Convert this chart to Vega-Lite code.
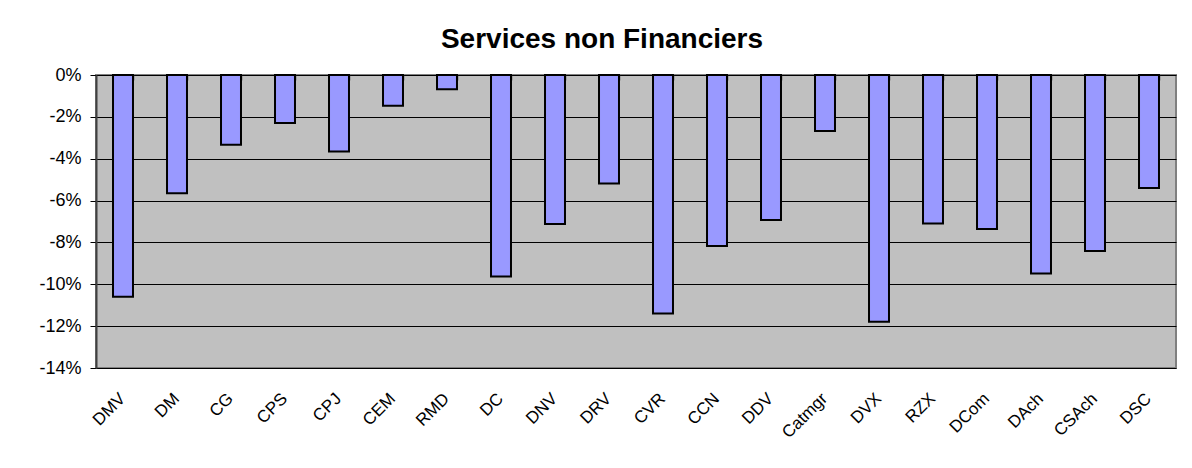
{
  "$schema": "https://vega.github.io/schema/vega-lite/v6.json",
  "autosize": {"type": "none"},
  "width": 1080,
  "height": 293,
  "padding": {"left": 96, "top": 75, "right": 16, "bottom": 100},
  "background": "white",
  "title": {
    "text": "Services non Financiers",
    "font": "Liberation Sans",
    "fontSize": 28,
    "fontWeight": "bold",
    "color": "black",
    "anchor": "middle",
    "frame": "group",
    "dx": -34,
    "offset": 12
  },
  "data": {
    "values": [
      {"cat": "DMV", "v": -0.106},
      {"cat": "DM", "v": -0.0565},
      {"cat": "CG", "v": -0.0333},
      {"cat": "CPS", "v": -0.0229},
      {"cat": "CPJ", "v": -0.0365},
      {"cat": "CEM", "v": -0.0147},
      {"cat": "RMD", "v": -0.0068},
      {"cat": "DC", "v": -0.0963},
      {"cat": "DNV", "v": -0.0712},
      {"cat": "DRV", "v": -0.0518},
      {"cat": "CVR", "v": -0.1139},
      {"cat": "CCN", "v": -0.0817},
      {"cat": "DDV", "v": -0.0693},
      {"cat": "Catmgr", "v": -0.0268},
      {"cat": "DVX", "v": -0.1179},
      {"cat": "RZX", "v": -0.0709},
      {"cat": "DCom", "v": -0.0736},
      {"cat": "DAch", "v": -0.0948},
      {"cat": "CSAch", "v": -0.0841},
      {"cat": "DSC", "v": -0.054}
    ]
  },
  "config": {
    "view": {"fill": "#C0C0C0", "stroke": "#808080", "strokeWidth": 2},
    "font": "Liberation Sans"
  },
  "resolve": {"axis": {"x": "independent"}},
  "layer": [
    {
      "mark": {"type": "bar", "fill": "#9999FF", "stroke": "black", "strokeWidth": 2},
      "encoding": {
        "x": {
          "field": "cat",
          "type": "nominal",
          "sort": null,
          "scale": {"paddingInner": 0.63, "paddingOuter": 0.315},
          "axis": {
            "title": null,
            "orient": "bottom",
            "labelAngle": -45,
            "labelFont": "Liberation Sans",
            "labelFontSize": 17,
            "labelColor": "black",
            "labelPadding": 22,
            "labelOffset": -6,
            "ticks": false,
            "domain": false
          }
        },
        "y": {
          "field": "v",
          "type": "quantitative",
          "scale": {"domain": [-0.14, 0], "nice": false, "zero": false},
          "axis": {
            "title": null,
            "values": [0, -0.02, -0.04, -0.06, -0.08, -0.1, -0.12, -0.14],
            "labelExpr": "replace(format(datum.value, '.0%'), '\u2212', '-')",
            "labelFont": "Liberation Sans",
            "labelFontSize": 18,
            "labelColor": "black",
            "labelPadding": 9,
            "tickColor": "black",
            "tickSize": 6,
            "domainColor": "#404040",
            "domainWidth": 2,
            "grid": true,
            "gridColor": "black",
            "gridWidth": 1,
            "gridOpacity": 1
          }
        }
      }
    },
    {
      "mark": {"type": "text", "text": ""},
      "encoding": {
        "x": {
          "field": "cat",
          "type": "nominal",
          "sort": null,
          "axis": {
            "title": null,
            "orient": "top",
            "labels": false,
            "domain": false,
            "ticks": true,
            "tickBand": "extent",
            "tickSize": 5,
            "offset": -5,
            "tickColor": "#404040",
            "tickWidth": 1.5
          }
        },
        "y": {"datum": 0, "type": "quantitative"}
      }
    }
  ]
}
